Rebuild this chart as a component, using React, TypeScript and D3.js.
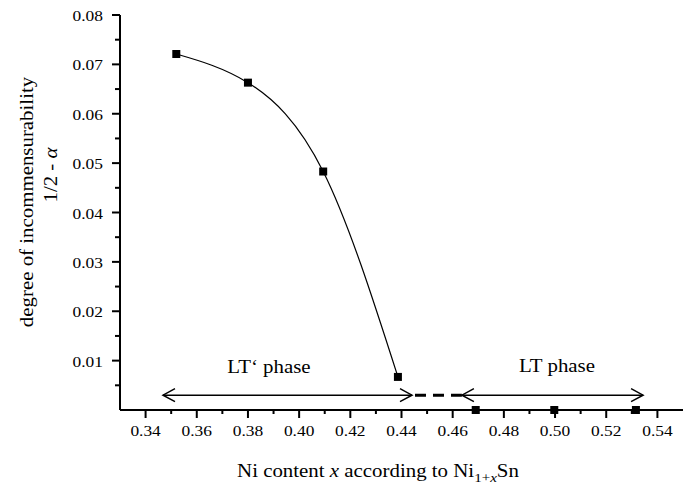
import React from "react";
import * as d3 from "d3";

// measured points, LT' phase (curve) and LT phase (commensurate, zero)
const ltPrimeX = [0.352, 0.38, 0.4094, 0.4386];
const ltPrimeY = [0.0721, 0.0663, 0.0483, 0.0067];
const ltX = [0.469, 0.4997, 0.5316];
const ltY = [0, 0, 0];

// phase ranges drawn as double arrows
const ltPrimeRange = [0.3468, 0.4441];
const ltRange = [0.4636, 0.5344];
const arrowLevel = 0.003;

const xMajorTicks = [0.34, 0.36, 0.38, 0.4, 0.42, 0.44, 0.46, 0.48, 0.5, 0.52, 0.54];
const xMinorTicks = [0.35, 0.37, 0.39, 0.41, 0.43, 0.45, 0.47, 0.49, 0.51, 0.53];
const yMajorTicks = [0.01, 0.02, 0.03, 0.04, 0.05, 0.06, 0.07, 0.08];
const yMinorTicks = [0.005, 0.015, 0.025, 0.035, 0.045, 0.055, 0.065, 0.075];

const W = 697;
const H = 488;
const FONT = "Liberation Serif, DejaVu Serif, serif";
const SX = 1.16; // glyphs in the figure are a bit wide

function Txt({ x, y, size, anchor = "middle", rotate = 0, children }: any) {
  return (
    <text
      transform={`translate(${x},${y}) rotate(${rotate}) scale(${SX},1)`}
      style={{ fontFamily: FONT, fontSize: size }}
      textAnchor={anchor}
      fill="#000"
    >
      {children}
    </text>
  );
}

function Arrow({ x1, x2, y }: { x1: number; x2: number; y: number }) {
  const L = 12;
  const h = 6.5;
  return (
    <g fill="none" stroke="#000" strokeWidth={1.5}>
      <line x1={x1} x2={x2} y1={y} y2={y} />
      <path d={`M${x1 + L},${y - h}L${x1},${y}L${x1 + L},${y + h}`} />
      <path d={`M${x2 - L},${y - h}L${x2},${y}L${x2 - L},${y + h}`} />
    </g>
  );
}

export default function App() {
  const x = d3.scaleLinear().domain([0.33, 0.55]).range([120, 683]);
  const y = d3.scaleLinear().domain([0, 0.08]).range([410, 15]);

  const curvePts: [number, number][] = ltPrimeX.map((v, i) => [x(v), y(ltPrimeY[i])]);
  const line = d3.line().curve(d3.curveNatural)(curvePts) || "";

  const zeroPts = ltX.map((v, i) => [x(v), y(ltY[i])]);
  const ay = y(arrowLevel);
  const sq = 8;

  return (
    <svg width={W} height={H} style={{ position: "absolute", left: 0, top: 0, background: "#fff" }}>
      {/* axes */}
      <g stroke="#000" strokeWidth={2}>
        <line x1={x(0.33)} x2={x(0.55)} y1={y(0)} y2={y(0)} />
        <line x1={x(0.33)} x2={x(0.33)} y1={y(0)} y2={y(0.08)} />
        {xMajorTicks.map((t) => (
          <line key={"xm" + t} x1={x(t)} x2={x(t)} y1={y(0)} y2={y(0) + 8} />
        ))}
        {xMinorTicks.map((t) => (
          <line key={"xn" + t} x1={x(t)} x2={x(t)} y1={y(0)} y2={y(0) + 4} />
        ))}
        {yMajorTicks.map((t) => (
          <line key={"ym" + t} x1={x(0.33) - 8} x2={x(0.33)} y1={y(t)} y2={y(t)} />
        ))}
        {yMinorTicks.map((t) => (
          <line key={"yn" + t} x1={x(0.33) - 5} x2={x(0.33)} y1={y(t)} y2={y(t)} />
        ))}
      </g>

      {xMajorTicks.map((t) => (
        <Txt key={"xl" + t} x={x(t)} y={436} size={15}>
          {d3.format(".2f")(t)}
        </Txt>
      ))}
      {yMajorTicks.map((t) => (
        <Txt key={"yl" + t} x={103} y={y(t) + 6} size={15} anchor="end">
          {d3.format(".2f")(t)}
        </Txt>
      ))}

      {/* fitted curve */}
      <path d={line} fill="none" stroke="#000" strokeWidth={1.2} />

      {/* phase arrows */}
      <Arrow x1={x(ltPrimeRange[0])} x2={x(ltPrimeRange[1])} y={ay} />
      <Arrow x1={x(ltRange[0])} x2={x(ltRange[1])} y={ay} />
      <line
        x1={x(ltPrimeRange[1])}
        x2={x(ltRange[0])}
        y1={ay}
        y2={ay}
        stroke="#000"
        strokeWidth={3}
        strokeDasharray="11 7"
        strokeDashoffset={-3}
      />

      {/* markers */}
      {curvePts.map(([px, py], i) => (
        <rect key={"p" + i} x={px - sq / 2} y={py - sq / 2} width={sq} height={sq} fill="#000" />
      ))}
      {zeroPts.map(([px, py], i) => (
        <rect key={"z" + i} x={px - sq / 2} y={py - sq / 2} width={sq} height={sq} fill="#000" />
      ))}

      <Txt x={269} y={373} size={18}>LT‘ phase</Txt>
      <Txt x={557} y={372} size={18}>LT phase</Txt>

      {/* axis titles */}
      <Txt x={378} y={477} size={18}>
        Ni content <tspan fontStyle="italic">x</tspan> according to Ni
        <tspan fontSize={13} dy={5}>
          1+<tspan fontStyle="italic">x</tspan>
        </tspan>
        <tspan dy={-5}>Sn</tspan>
      </Txt>
      <Txt x={33} y={202} size={18} rotate={-90}>
        degree of incommensurability
      </Txt>
      <Txt x={57} y={175} size={18} rotate={-90}>
        1/2 - <tspan fontStyle="italic">α</tspan>
      </Txt>
    </svg>
  );
}
